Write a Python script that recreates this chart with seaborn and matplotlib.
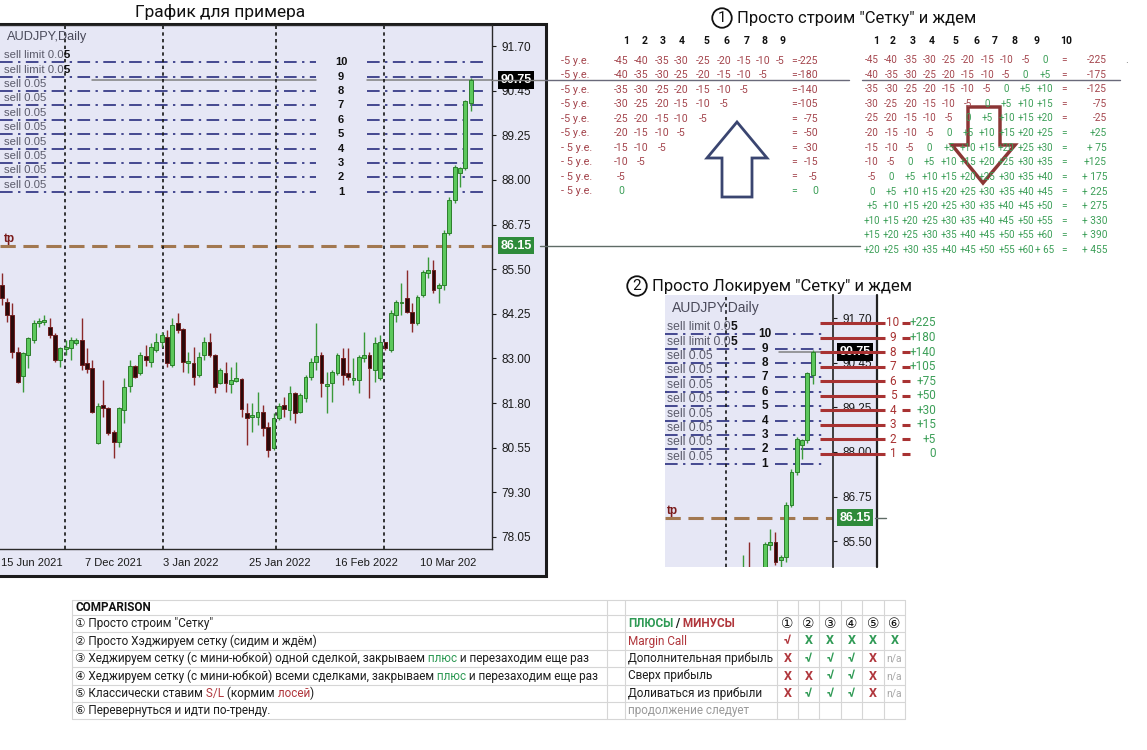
import matplotlib
matplotlib.use("Agg")
import matplotlib.pyplot as plt
import matplotlib.transforms as mtransforms
from matplotlib.patches import Rectangle, Polygon
import numpy as np
import pandas as pd
import seaborn as sns

# ----------------------------- data -----------------------------
OPEN = [85.06, 84.59, 84.22, 83.19, 82.52, 83.11, 83.52, 84.00, 84.03, 83.89,
        83.67, 82.97, 83.28, 83.31, 83.45, 83.53, 82.88, 82.75, 80.66, 81.72,
        81.64, 80.98, 80.69, 81.58, 82.25, 82.80, 82.61, 83.08, 82.91, 83.25,
        83.47, 83.62, 82.83, 84.00, 83.84, 82.88, 82.88, 82.55, 83.11, 83.48,
        83.11, 82.33, 82.62, 82.30, 82.38, 82.44, 81.50, 81.39, 81.38, 81.53,
        81.11, 80.52, 81.36, 81.72, 81.58, 82.05, 81.52, 81.91, 82.49, 82.91,
        83.12, 82.25, 82.33, 82.61, 83.03, 82.61, 82.41, 82.41, 83.03, 83.12,
        82.69, 82.46, 83.48, 83.24, 84.22, 84.55, 84.69, 84.31, 84.00, 84.78,
        85.38, 85.48, 84.97, 85.05, 86.49, 87.41, 88.17, 88.30, 90.11]
HIGH = [85.39, 84.70, 84.56, 83.33, 83.19, 83.62, 84.08, 84.14, 84.22, 84.14,
        83.73, 83.33, 83.53, 83.62, 83.59, 84.15, 83.31, 82.98, 81.78, 82.42,
        81.67, 81.03, 81.67, 82.47, 82.98, 82.83, 83.19, 83.39, 83.45, 83.73,
        83.75, 83.81, 84.15, 84.28, 83.87, 83.19, 83.33, 83.19, 83.62, 83.73,
        83.14, 82.75, 82.92, 82.78, 82.91, 82.47, 81.78, 81.78, 82.08, 81.73,
        81.25, 81.50, 81.78, 81.94, 82.25, 82.08, 82.05, 82.56, 83.03, 84.01,
        83.20, 82.64, 82.70, 83.17, 83.31, 83.31, 83.03, 83.11, 83.76, 83.18,
        83.62, 83.67, 83.48, 84.36, 84.65, 85.11, 85.48, 84.56, 84.79, 85.48,
        85.83, 85.76, 85.11, 86.59, 87.51, 88.39, 88.34, 90.21, 90.81]
LOW = [84.50, 84.03, 83.02, 82.33, 82.07, 82.74, 83.44, 83.89, 83.94, 83.58,
       82.91, 82.77, 83.11, 82.97, 83.39, 82.69, 82.61, 81.49, 80.64, 81.38,
       80.88, 80.25, 80.55, 81.21, 82.08, 82.47, 82.55, 82.80, 82.77, 83.19,
       83.32, 82.77, 82.77, 83.72, 82.63, 82.61, 82.27, 82.49, 82.97, 83.05,
       82.04, 82.30, 82.08, 82.05, 82.35, 81.38, 80.60, 80.97, 81.15, 80.85,
       80.27, 80.46, 81.30, 81.38, 81.29, 81.21, 81.49, 81.80, 82.41, 82.69,
       81.94, 81.49, 81.80, 82.55, 82.27, 82.41, 82.27, 82.04, 82.91, 81.91,
       82.35, 82.41, 83.25, 83.18, 84.03, 84.21, 84.27, 83.75, 83.94, 84.72,
       85.24, 84.83, 84.55, 84.91, 86.44, 87.33, 87.77, 88.24, 89.88]
CLOSE = [84.69, 84.22, 83.18, 82.35, 83.17, 83.59, 84.00, 84.05, 84.08, 83.66,
         82.97, 83.31, 83.33, 83.53, 83.53, 82.83, 82.72, 81.52, 81.70, 81.63,
         80.94, 80.70, 81.64, 82.22, 82.81, 82.49, 83.11, 82.97, 83.33, 83.48,
         83.66, 82.88, 83.95, 83.80, 82.91, 82.94, 82.49, 83.05, 83.48, 83.11,
         82.21, 82.70, 82.33, 82.42, 82.46, 81.60, 81.36, 81.44, 81.52, 81.08,
         80.46, 81.36, 81.70, 81.60, 82.05, 81.49, 82.00, 82.50, 82.91, 83.08,
         82.33, 82.30, 82.64, 83.11, 82.55, 82.49, 82.46, 83.05, 83.11, 82.75,
         83.45, 83.48, 83.31, 84.28, 84.59, 84.58, 84.30, 84.00, 84.73, 85.42,
         85.47, 84.92, 85.06, 86.50, 87.42, 88.34, 88.31, 90.16, 90.75]

PRICE_TICKS = ["91.70", "90.45", "89.25", "88.00", "86.75", "85.50",
               "84.25", "83.00", "81.80", "80.55", "79.30", "78.05"]
PRICE_TOP, PRICE_BOTTOM = 91.70, 78.05
DATE_LABELS = ["15 Jun 2021", "7 Dec 2021", "3 Jan 2022", "25 Jan 2022",
               "16 Feb 2022", "10 Mar 202"]
DATE_AT = [-0.2, 15.6, 30.3, 46.4, 62.5, 78.5]
PERIOD_SEPARATORS = [11.9, 30.3, 51.5, 71.7]
GRID_LEVELS = [87.65, 88.05, 88.45, 88.85, 89.25, 89.65, 90.05, 90.45, 90.85, 91.25]
LEVEL_NAMES = ["1", "2", "3", "4", "5", "6", "7", "8", "9", "10"]
ORDER_LABELS = ["sell 0.05"] * 8 + ["sell limit 0.05"] * 2
CURRENT_PRICE = 90.75
TP_PRICE = 86.15

T1_HEADER = ["1", "2", "3", "4", "5", "6", "7", "8", "9"]
T1_ROW_LABELS = ["-5 у.е."] * 6 + ["- 5 у.е."] * 4
T1_ROWS = [["-45", "-40", "-35", "-30", "-25", "-20", "-15", "-10", "-5"],
           ["-40", "-35", "-30", "-25", "-20", "-15", "-10", "-5"],
           ["-35", "-30", "-25", "-20", "-15", "-10", "-5"],
           ["-30", "-25", "-20", "-15", "-10", "-5"],
           ["-25", "-20", "-15", "-10", "-5"],
           ["-20", "-15", "-10", "-5"],
           ["-15", "-10", "-5"],
           ["-10", "-5"],
           ["-5"],
           ["0"]]
T1_SUMS = ["-225", "-180", "-140", "-105", "-75", "-50", "-30", "-15", "-5", "0"]

T2_HEADER = ["1", "2", "3", "4", "5", "6", "7", "8", "9", "10"]
T2_ROWS = [["-45", "-40", "-35", "-30", "-25", "-20", "-15", "-10", "-5", "0"],
           ["-40", "-35", "-30", "-25", "-20", "-15", "-10", "-5", "0", "+5"],
           ["-35", "-30", "-25", "-20", "-15", "-10", "-5", "0", "+5", "+10"],
           ["-30", "-25", "-20", "-15", "-10", "-5", "0", "+5", "+10", "+15"],
           ["-25", "-20", "-15", "-10", "-5", "0", "+5", "+10", "+15", "+20"],
           ["-20", "-15", "-10", "-5", "0", "+5", "+10", "+15", "+20", "+25"],
           ["-15", "-10", "-5", "0", "+5", "+10", "+15", "+20", "+25", "+30"],
           ["-10", "-5", "0", "+5", "+10", "+15", "+20", "+25", "+30", "+35"],
           ["-5", "0", "+5", "+10", "+15", "+20", "+25", "+30", "+35", "+40"],
           ["0", "+5", "+10", "+15", "+20", "+25", "+30", "+35", "+40", "+45"],
           ["+5", "+10", "+15", "+20", "+25", "+30", "+35", "+40", "+45", "+50"],
           ["+10", "+15", "+20", "+25", "+30", "+35", "+40", "+45", "+50", "+55"],
           ["+15", "+20", "+25", "+30", "+35", "+40", "+45", "+50", "+55", "+60"],
           ["+20", "+25", "+30", "+35", "+40", "+45", "+50", "+55", "+60", "+ 65"]]
T2_SUMS = ["-225", "-175", "-125", "-75", "-25", "+25", "+ 75", "+125", "+ 175",
           "+ 225", "+ 275", "+ 330", "+ 390", "+ 455"]

LOCK_LEVELS = ["10", "9", "8", "7", "6", "5", "4", "3", "2", "1"]
LOCK_RESULTS = ["+225", "+180", "+140", "+105", "+75", "+50", "+30", "+15", "+5", "0"]

CMP_TITLE = "COMPARISON"
CMP_ROWS = [[('① Просто строим "Сетку"', 'k')],
            [('② Просто Хэджируем сетку (сидим и ждём)', 'k')],
            [('③ Хеджируем сетку (с мини-юбкой) одной сделкой, закрываем', 'k'),
             (' плюс', 'g'), (' и перезаходим еще раз', 'k')],
            [('④ Хеджируем сетку (с мини-юбкой) всеми сделками, закрываем', 'k'),
             (' плюс', 'g'), (' и перезаходим еще раз', 'k')],
            [('⑤ Классически ставим', 'k'), (' S/L', 'r'), (' (кормим', 'k'),
             (' лосей', 'r'), (')', 'k')],
            [('⑥ Перевернуться и идти по-тренду.', 'k')]]
CRITERIA = ["Margin Call", "Дополнительная прибыль", "Сверх прибыль", "Доливаться из прибыли"]
CRITERIA_COLORS = ['r', 'k', 'k', 'k']
STRATEGY_HEADS = ["①", "②", "③", "④", "⑤", "⑥"]
MARKS = [["√", "X", "X", "X", "X", "X"],
         ["X", "√", "√", "√", "X", "n/a"],
         ["X", "X", "√", "√", "X", "n/a"],
         ["X", "√", "√", "√", "X", "n/a"]]
MARK_COLORS = [["r", "g", "g", "g", "g", "g"],
               ["r", "g", "g", "g", "r", "n"],
               ["r", "r", "g", "g", "r", "n"],
               ["r", "g", "g", "g", "r", "n"]]

# ----------------------------- style -----------------------------
sns.set_theme(style="white")
CHART_FONT = ['Liberation Sans', 'DejaVu Sans']
TAB_FONT = ['Roboto', 'DejaVu Sans']
plt.rcParams['font.family'] = TAB_FONT

LAV = '#E6E7F5'
RED_T = '#A4454D'
GRN_T = '#3C9F58'
COLS = {'k': '#1e1e1e', 'r': '#B0363C', 'g': '#2F9A55', 'n': '#A8A8A8'}

df = pd.DataFrame({'open': OPEN, 'high': HIGH, 'low': LOW, 'close': CLOSE})
df['idx'] = np.arange(len(df))
tick_pos = np.linspace(PRICE_TOP, PRICE_BOTTOM, len(PRICE_TICKS))

W, H = 1147, 750
fig = plt.figure(figsize=(W / 100, H / 100), dpi=100)
fig.patch.set_facecolor('white')


def px_axes(x0, y0, x1, y1, z):
    a = fig.add_axes([x0 / W, 1 - y1 / H, (x1 - x0) / W, (y1 - y0) / H])
    a.set_zorder(z)
    return a


bg = px_axes(0, 0, W, H, 0)
bg.set_xlim(0, W); bg.set_ylim(H, 0); bg.axis('off')
bg.add_patch(Rectangle((-3, 24), 549, 552, fc=LAV, ec='#1b1b1b', lw=2.2))
bg.add_patch(Rectangle((665, 295), 213, 272, fc=LAV, ec='none'))
bg.plot([877, 877], [295, 567], color='#222', lw=1.6)


def draw_candles(ax):
    up = (df['close'] >= df['open']).values
    wick = np.where(up, '#3A9A3A', '#8B2A2A').tolist()
    body = np.where(up, '#5CC85C', '#2B0A0A').tolist()
    edge = np.where(up, '#2C7F2C', '#6E1E1E').tolist()
    ax.vlines(df['idx'], df['low'], df['high'], colors=wick, lw=1.0, zorder=3)
    lo = np.minimum(df['open'], df['close'])
    hgt = np.maximum((df['close'] - df['open']).abs(), 0.03)
    ax.bar(df['idx'], hgt, bottom=lo, width=0.72, color=body, edgecolor=edge,
           linewidth=0.7, zorder=4)


def setup_chart(ax, xlim, ylim):
    ax.set_facecolor(LAV)
    ax.set_xlim(*xlim); ax.set_ylim(*ylim)
    draw_candles(ax)
    ax.yaxis.tick_right()
    ax.set_yticks(tick_pos, PRICE_TICKS)
    ax.set_xticks([])
    ax.tick_params(axis='y', right=True, left=False, direction='out', length=3,
                   width=0.8, pad=4, labelsize=8.5, colors='#1a1a1a',
                   labelfontfamily='Liberation Sans')
    ax.set_ylim(*ylim)
    for s in ax.spines.values():
        s.set_visible(False)


def order_label(ax, tr, xfrac, lv, lab, size):
    """grey order label with the trailing bold '5' like in the terminal."""
    if 'limit' in lab:
        t = ax.annotate(lab[:-1], xy=(xfrac, lv), xycoords=tr, xytext=(0, 5),
                        textcoords='offset points', ha='left', va='center',
                        fontsize=size, color='#5a5a6a', family=CHART_FONT, zorder=6)
        ax.annotate(lab[-1], xy=(1, 0), xycoords=t, ha='left', va='bottom',
                    fontsize=size, weight='bold', color='#111', family=CHART_FONT,
                    zorder=7)
    else:
        ax.annotate(lab, xy=(xfrac, lv), xycoords=tr, xytext=(0, 5),
                    textcoords='offset points', ha='left', va='center', fontsize=size,
                    color='#5a5a6a', family=CHART_FONT, zorder=6)


LEVEL_C = '#383C88'
LEVEL_LS = (0, (7, 3, 1.3, 3))
TP_C = '#A27850'

# ---------------- main chart ----------------
ax1 = px_axes(0, 25, 492, 549, 1)
setup_chart(ax1, (-0.32, 91.99), (77.716, 92.284))
for side in ['right', 'bottom', 'top']:
    ax1.spines[side].set_visible(True)
    ax1.spines[side].set_color('#2a2a2a')
    ax1.spines[side].set_linewidth(1.0)
for lv in GRID_LEVELS:
    for a, b in [(0, 316 / 492), (367 / 492, 485 / 492)]:
        ax1.axhline(lv, xmin=a, xmax=b, color=LEVEL_C, lw=1.3, ls=LEVEL_LS, zorder=2)
ax1.axhline(TP_PRICE, color=TP_C, lw=2.2, ls=(0, (5, 2.5)), zorder=2)
for a, b in [(92 / 492, 316 / 492), (367 / 492, 1)]:
    ax1.axhline(CURRENT_PRICE, xmin=a, xmax=b, color='#808080', lw=1.1, zorder=2)
for s in PERIOD_SEPARATORS:
    ax1.axvline(s, color='#151515', lw=1.2, ls=(0, (2, 2)), zorder=2)
yt1 = ax1.get_yaxis_transform()
for lv, nm, lab in zip(GRID_LEVELS, LEVEL_NAMES, ORDER_LABELS):
    ax1.text(341 / 492, lv, nm, transform=yt1, ha='center', va='center', fontsize=8,
             weight='bold', color='#111', family=CHART_FONT, zorder=6)
    order_label(ax1, yt1, 4 / 492, lv, lab, 8.2)
ax1.annotate('tp', xy=(4 / 492, TP_PRICE), xycoords=yt1, xytext=(0, 5),
             textcoords='offset points', ha='left', va='center', fontsize=8.5,
             weight='bold', color='#7A1A1A', family=CHART_FONT, zorder=6)
ax1.text(516 / 492, CURRENT_PRICE, f"{CURRENT_PRICE:.2f}", transform=yt1, ha='center',
         va='center', color='white', fontsize=9, weight='bold', family=CHART_FONT,
         bbox=dict(boxstyle='square,pad=0.22', fc='black', ec='none'), zorder=10,
         clip_on=False)
ax1.text(516 / 492, TP_PRICE, f"{TP_PRICE:.2f}", transform=yt1, ha='center',
         va='center', color='white', fontsize=9, weight='bold', family=CHART_FONT,
         bbox=dict(boxstyle='square,pad=0.22', fc='#2E8B3A', ec='none'), zorder=10,
         clip_on=False)
xt1 = ax1.get_xaxis_transform()
for pos, lab in zip(DATE_AT, DATE_LABELS):
    ax1.text(pos, -0.027, lab, transform=xt1, ha='left', va='center', fontsize=8,
             color='#1a1a1a', family=CHART_FONT, clip_on=False)

# ---------------- second (locked) chart ----------------
ax2 = px_axes(665, 295, 833, 567, 1)
setup_chart(ax2, (60.28, 91.80), (84.78, 92.34))
ax2.spines['right'].set_visible(True)
ax2.spines['right'].set_color('#2a2a2a')
for lv in GRID_LEVELS:
    for a, b in [(0, 92 / 168), (110 / 168, 160 / 168)]:
        ax2.axhline(lv, xmin=a, xmax=b, color=LEVEL_C, lw=1.3, ls=LEVEL_LS, zorder=2)
ax2.axhline(TP_PRICE, color=TP_C, lw=2.2, ls=(0, (5, 2.5)), zorder=2)
ax2.axhline(CURRENT_PRICE, xmin=114 / 168, xmax=1, color='#808080', lw=1.1, zorder=2)
ax2.axvline(PERIOD_SEPARATORS[-1], color='#151515', lw=1.2, ls=(0, (2, 2)), zorder=2)
yt2 = ax2.get_yaxis_transform()
for lv, nm, lab in zip(GRID_LEVELS, LEVEL_NAMES, ORDER_LABELS):
    ax2.text(100 / 168, lv, nm, transform=yt2, ha='center', va='center', fontsize=8.5,
             weight='bold', color='#111', family=CHART_FONT, zorder=6)
    order_label(ax2, yt2, 2 / 168, lv, lab, 8.7)
ax2.annotate('tp', xy=(2 / 168, TP_PRICE), xycoords=yt2, xytext=(0, 5),
             textcoords='offset points', ha='left', va='center', fontsize=8.5,
             weight='bold', color='#7A1A1A', family=CHART_FONT, zorder=6)
ax2.text(190 / 168, CURRENT_PRICE, f"{CURRENT_PRICE:.2f}", transform=yt2, ha='center',
         va='center', color='white', fontsize=9, weight='bold', family=CHART_FONT,
         bbox=dict(boxstyle='square,pad=0.22', fc='black', ec='none'), zorder=10,
         clip_on=False)
ax2.text(190 / 168, TP_PRICE, f"{TP_PRICE:.2f}", transform=yt2, ha='center',
         va='center', color='white', fontsize=9, weight='bold', family=CHART_FONT,
         bbox=dict(boxstyle='square,pad=0.22', fc='#2E8B3A', ec='none'), zorder=10,
         clip_on=False)

# ---------------- overlay (texts, tables) ----------------
ov = px_axes(0, 0, W, H, 5)
ov.patch.set_visible(False)
ov.set_xlim(0, W); ov.set_ylim(H, 0); ov.axis('off')
b1 = mtransforms.blended_transform_factory(ov.transData, ax1.transData)
b2 = mtransforms.blended_transform_factory(ov.transData, ax2.transData)
ov.plot([492, 545], [CURRENT_PRICE] * 2, transform=b1, color='#808080', lw=1.0, zorder=1)
ov.plot([545, 849], [CURRENT_PRICE] * 2, transform=b1, color='#6a6a7a', lw=1.0)
ov.plot([862, 1120], [CURRENT_PRICE] * 2, transform=b1, color='#6a6a7a', lw=1.0)
ov.plot([540, 860], [TP_PRICE] * 2, transform=b1, color='#5f6b66', lw=1.0)
ov.plot([875, 886], [TP_PRICE] * 2, transform=b2, color='#5f6b66', lw=1.0)

ov.text(7, 37, "AUDJPY,Daily", fontsize=9.2, color='#4a4a5a', family=CHART_FONT, va='center')
ov.text(672, 308, "AUDJPY,Daily", fontsize=10, color='#4a4a5a', family=CHART_FONT, va='center')

ov.text(220, 12, "График для примера", fontsize=12.5, ha='center', va='center', color='#111')

# section titles with circled numbers
for (cx, cy, num, tx, title) in [(722, 18, "1", 737, 'Просто строим "Сетку" и ждем'),
                                  (637, 286, "2", 652, 'Просто Локируем "Сетку" и ждем')]:
    ov.text(cx, cy, num, fontsize=11, ha='center', va='center', color='#111',
            bbox=dict(boxstyle='circle,pad=0.18', fc='none', ec='#111', lw=1.3))
    ov.text(tx, cy, title, fontsize=12, ha='left', va='center', color='#111')

# ---- table 1 ----
t1_cols = [621, 641, 662, 681, 703, 724, 744, 763, 780]
t1_head = [626, 645, 663, 682, 706, 727, 747, 765, 782]
for x, h in zip(t1_head, T1_HEADER):
    ov.text(x, 41, h, fontsize=7.5, weight='bold', ha='center', va='center', color='#111')
for r, (lab, row, sm) in enumerate(zip(T1_ROW_LABELS, T1_ROWS, T1_SUMS)):
    y = 61 + 14.44 * r
    ov.text(561, y, lab, fontsize=7.8, ha='left', va='center', color=RED_T)
    for x, tok in zip(t1_cols, row):
        ov.text(x, y, tok, fontsize=7.6, ha='center', va='center',
                color=RED_T if tok.startswith('-') else GRN_T)
    c = RED_T if sm.startswith('-') else GRN_T
    ov.text(794, y, "=", fontsize=7.6, ha='center', va='center', color=c)
    ov.text(818, y, sm, fontsize=7.6, ha='right', va='center', color=c)
ov.add_patch(Polygon([(722, 197), (722, 158), (707, 158), (737, 122), (767, 158),
                      (752, 158), (752, 197)], closed=True, fill=False,
                     ec='#3A4570', lw=2))

# ---- table 2 ----
t2_head = [876, 893, 913, 932, 955, 977, 995, 1014, 1037, 1066]
for x, h in zip(t2_head, T2_HEADER):
    ov.text(x, 41, h, fontsize=7.5, weight='bold', ha='center', va='center', color='#111')
for r, (row, sm) in enumerate(zip(T2_ROWS, T2_SUMS)):
    y = 60 + 14.62 * r
    for j, tok in enumerate(row):
        ov.text(872 + 19.2 * j, y, tok, fontsize=7.1, ha='center', va='center',
                color=RED_T if tok.startswith('-') else GRN_T)
    c = RED_T if sm.startswith('-') else GRN_T
    ov.text(1064, y, "=", fontsize=7.3, ha='center', va='center', color=c)
    ov.text(1107, y, sm, fontsize=7.3, ha='right', va='center', color=c)
ov.text(1127, 60, ".", fontsize=8, color='#777', ha='center', va='center')
ov.add_patch(Polygon([(968, 107), (1000, 107), (1000, 145), (1015, 145), (983, 183),
                      (952, 145), (968, 145)], closed=True, fill=False,
                     ec='#8B3535', lw=2.5))

# ---- lock annotations next to chart 2 ----
for k, (lv, res) in enumerate(zip(LOCK_LEVELS, LOCK_RESULTS)):
    y = 323 + 14.55 * k
    ov.plot([820, 885], [y, y], color='#A83232', lw=2.2, solid_capstyle='butt')
    ov.text(893, y, lv, fontsize=8.5, ha='center', va='center', color='#A83232')
    ov.plot([902, 910], [y, y], color='#A83232', lw=2.2, solid_capstyle='butt')
    ov.text(936, y, res, fontsize=8.5, ha='right', va='center', color=GRN_T)

# ---- comparison table ----
grid_c = '#D6D6D6'
for y in [600, 615, 632, 650, 667, 685, 702, 719]:
    ov.plot([72, 905], [y, y], color=grid_c, lw=0.8)
for x in [72, 607, 625, 777, 798, 819, 841, 862, 884, 905]:
    ov.plot([x, x], [600, 719], color=grid_c, lw=0.8)
row_y = [623.5, 641, 658.5, 676, 693.5, 710.5]
ov.text(75, 607.5, CMP_TITLE, fontsize=8.5, weight='bold', ha='left', va='center', color='#111')


def rich(x, y, parts, size=8.5, weight='normal'):
    t = None
    for s, c in parts:
        if t is None:
            t = ov.text(x, y, s, fontsize=size, color=COLS[c], ha='left', va='center',
                        weight=weight)
        else:
            t = ov.annotate(s, xy=(1, 0), xycoords=t, ha='left', va='bottom',
                            fontsize=size, color=COLS[c], weight=weight)


for y, parts in zip(row_y, CMP_ROWS):
    rich(75, y, parts)
rich(628, row_y[0], [("ПЛЮСЫ", 'g'), (" /", 'k'), (" МИНУСЫ", 'r')], weight='bold')
for y, crit, cc in zip(row_y[1:], CRITERIA, CRITERIA_COLORS):
    ov.text(628, y, crit, fontsize=8.5, ha='left', va='center', color=COLS[cc])
ov.text(628, row_y[5], "продолжение следует", fontsize=8.5, ha='left', va='center',
        color='#9A9A9A')
mark_x = [787.5, 808.5, 830, 851.5, 873, 894.5]
for x, hd in zip(mark_x, STRATEGY_HEADS):
    ov.text(x, row_y[0], hd, fontsize=10, ha='center', va='center', color='#111')
for y, row, crow in zip(row_y[1:], MARKS, MARK_COLORS):
    for x, m, c in zip(mark_x, row, crow):
        ov.text(x, y, m, fontsize=7.5 if m == 'n/a' else 9, ha='center', va='center',
                color=COLS[c], weight='normal' if m == 'n/a' else 'bold')

fig.savefig("out.png", dpi=100)
